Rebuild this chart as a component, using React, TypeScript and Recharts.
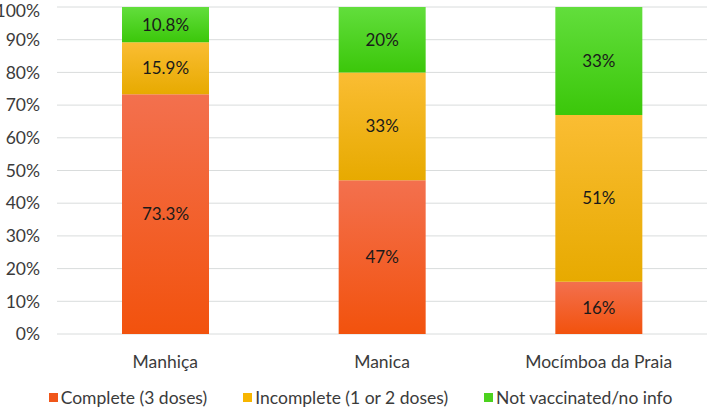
import { BarChart, Bar, XAxis, YAxis, CartesianGrid, LabelList } from "recharts";

// Data
const SITES = ["Manhiça", "Manica", "Mocímboa da Praia"];
const COMPLETE = [73.3, 47, 16];
const INCOMPLETE = [15.9, 33, 51];
const NOT_VACCINATED = [10.8, 20, 33];
const Y_TICKS = [0, 10, 20, 30, 40, 50, 60, 70, 80, 90, 100];

const SERIES = [
  { key: "complete", name: "Complete (3 doses)", grad: "gradOrange", top: "#F3704E", bottom: "#F2520D", swatch: "#F0561A" },
  { key: "incomplete", name: "Incomplete (1 or 2 doses)", grad: "gradYellow", top: "#FABD33", bottom: "#E7AA00", swatch: "#F7B500" },
  { key: "notVaccinated", name: "Not vaccinated/no info", grad: "gradGreen", top: "#62DE3C", bottom: "#3BC70A", swatch: "#4CD21E" },
];

const data = SITES.map((site, i) => ({
  site,
  complete: COMPLETE[i],
  incomplete: INCOMPLETE[i],
  notVaccinated: NOT_VACCINATED[i],
}));

const FONT = "Lato, 'Open Sans', sans-serif";
const TEXT_COLOR = "#3b3b3b";
const FONT_SIZE = 17.5;

function LegendRow() {
  return (
    <div
      style={{
        position: "absolute",
        left: 0,
        top: 387,
        width: 707,
        display: "flex",
        justifyContent: "center",
        gap: 36,
        fontFamily: FONT,
        fontSize: FONT_SIZE,
        color: TEXT_COLOR,
        paddingLeft: 14,
        boxSizing: "border-box",
      }}
    >
      {SERIES.map((s) => (
        <div key={s.key} style={{ display: "flex", alignItems: "center" }}>
          <span style={{ display: "inline-block", width: 9, height: 9, background: s.swatch, marginRight: 3 }} />
          <span>{s.name}</span>
        </div>
      ))}
    </div>
  );
}

export default function App() {
  return (
    <div style={{ position: "absolute", left: 0, top: 0, width: 707, height: 410, background: "#fff" }}>
      <BarChart
        width={707}
        height={410}
        data={data}
        margin={{ top: 7, right: 0, bottom: 46, left: 0 }}
        barCategoryGap="30%"
      >
        <defs>
          {SERIES.map((s) => (
            <linearGradient key={s.grad} id={s.grad} x1="0" y1="0" x2="0" y2="1">
              <stop offset="0%" stopColor={s.top} />
              <stop offset="100%" stopColor={s.bottom} />
            </linearGradient>
          ))}
        </defs>
        <CartesianGrid vertical={false} stroke="#d9dcdc" />
        <XAxis
          dataKey="site"
          height={30}
          tickLine={false}
          axisLine={false}
          tickMargin={16}
          tick={{ fill: TEXT_COLOR, fontSize: FONT_SIZE, fontFamily: FONT }}
        />
        <YAxis
          domain={[0, 100]}
          ticks={Y_TICKS}
          width={57}
          tickLine={false}
          axisLine={false}
          tickMargin={11}
          tickFormatter={(v) => `${v}%`}
          tick={{ fill: TEXT_COLOR, fontSize: FONT_SIZE, fontFamily: FONT }}
        />
        {SERIES.map((s) => (
          <Bar
            key={s.key}
            dataKey={s.key}
            name={s.name}
            stackId="a"
            fill={`url(#${s.grad})`}
            isAnimationActive={false}
          >
            <LabelList
              dataKey={s.key}
              position="center"
              formatter={(v: number) => `${v}%`}
              style={{ fill: "#1a1a1a", fontSize: 17, fontFamily: FONT }}
            />
          </Bar>
        ))}
      </BarChart>
      <LegendRow />
    </div>
  );
}
